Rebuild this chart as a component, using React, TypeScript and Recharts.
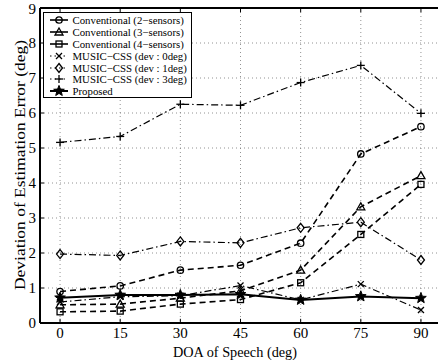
import React from 'react';
import { LineChart, Line, XAxis, YAxis, CartesianGrid, ReferenceLine, Legend } from 'recharts';

const doa = [0, 15, 30, 45, 60, 75, 90];
const conv2 = [0.9, 1.06, 1.51, 1.65, 2.28, 4.83, 5.61];
const conv3 = [0.52, 0.54, 0.71, 0.92, 1.51, 3.32, 4.21];
const conv4 = [0.32, 0.34, 0.54, 0.67, 1.15, 2.53, 3.96];
const music0 = [0.6, 0.75, 0.78, 1.07, 0.66, 1.11, 0.37];
const music1 = [1.97, 1.93, 2.33, 2.29, 2.72, 2.88, 1.8];
const music3 = [5.16, 5.33, 6.25, 6.22, 6.87, 7.36, 5.99];
const proposed = [0.72, 0.8, 0.8, 0.82, 0.66, 0.76, 0.71];

const xTicks = [0, 15, 30, 45, 60, 75, 90];
const yTicks = [0, 1, 2, 3, 4, 5, 6, 7, 8, 9];

const data = doa.map((x, i) => ({
  x,
  conv2: conv2[i],
  conv3: conv3[i],
  conv4: conv4[i],
  music0: music0[i],
  music1: music1[i],
  music3: music3[i],
  proposed: proposed[i],
}));

type MType = 'circle' | 'triangle' | 'square' | 'x' | 'diamond' | 'plus' | 'star';

const series: { key: string; name: string; marker: MType; style: 'dash' | 'dashdot' | 'solid' }[] = [
  { key: 'conv2', name: 'Conventional (2\u2212sensors)', marker: 'circle', style: 'dash' },
  { key: 'conv3', name: 'Conventional (3\u2212sensors)', marker: 'triangle', style: 'dash' },
  { key: 'conv4', name: 'Conventional (4\u2212sensors)', marker: 'square', style: 'dash' },
  { key: 'music0', name: 'MUSIC\u2212CSS (dev : 0deg)', marker: 'x', style: 'dashdot' },
  { key: 'music1', name: 'MUSIC\u2212CSS (dev : 1deg)', marker: 'diamond', style: 'dashdot' },
  { key: 'music3', name: 'MUSIC\u2212CSS (dev : 3deg)', marker: 'plus', style: 'dashdot' },
  { key: 'proposed', name: 'Proposed', marker: 'star', style: 'solid' },
];

const lineProps = (style: string) => {
  if (style === 'dash') return { strokeWidth: 1.6, strokeDasharray: '6 4' };
  if (style === 'dashdot') return { strokeWidth: 1.2, strokeDasharray: '7 3 1.5 3' };
  return { strokeWidth: 2 };
};

const Marker = ({ type, cx, cy }: { type: MType; cx: number; cy: number }) => {
  const s = { stroke: '#000', strokeWidth: 1.3, fill: 'none' } as const;
  switch (type) {
    case 'circle':
      return <circle cx={cx} cy={cy} r={3.2} {...s} />;
    case 'triangle':
      return <polygon points={`${cx},${cy - 4} ${cx - 4},${cy + 3} ${cx + 4},${cy + 3}`} {...s} />;
    case 'square':
      return <rect x={cx - 3} y={cy - 3} width={6} height={6} {...s} />;
    case 'x':
      return (
        <g {...s}>
          <line x1={cx - 3} y1={cy - 3} x2={cx + 3} y2={cy + 3} />
          <line x1={cx - 3} y1={cy + 3} x2={cx + 3} y2={cy - 3} />
        </g>
      );
    case 'diamond':
      return <polygon points={`${cx},${cy - 4.5} ${cx + 3.5},${cy} ${cx},${cy + 4.5} ${cx - 3.5},${cy}`} {...s} />;
    case 'plus':
      return (
        <g {...s}>
          <line x1={cx - 4} y1={cy} x2={cx + 4} y2={cy} />
          <line x1={cx} y1={cy - 4} x2={cx} y2={cy + 4} />
        </g>
      );
    case 'star': {
      const pts: string[] = [];
      for (let i = 0; i < 10; i++) {
        const r = i % 2 === 0 ? 5.6 : 2.4;
        const a = -Math.PI / 2 + (i * Math.PI) / 5;
        pts.push(`${cx + r * Math.cos(a)},${cy + r * Math.sin(a)}`);
      }
      return <polygon points={pts.join(' ')} stroke="#000" strokeWidth={1} fill="#000" strokeLinejoin="miter" />;
    }
  }
  return null;
};

const FONT = '"Liberation Serif", "Times New Roman", serif';

const LegendBox = () => (
  <div
    style={{
      boxSizing: 'border-box',
      width: 149,
      height: 86,
      border: '1.5px solid #000',
      background: '#fff',
      padding: '1px 4px 0 6px',
      fontFamily: FONT,
      fontSize: 10.8,
      color: '#000',
    }}
  >
    {series.map((s) => {
      const lp = lineProps(s.style);
      return (
        <div key={s.key} style={{ display: 'flex', alignItems: 'center', height: 11.9, whiteSpace: 'nowrap' }}>
          <svg width={18} height={12} style={{ flex: 'none', marginRight: 4.5, overflow: 'visible' }}>
            <line x1={0} y1={6} x2={18} y2={6} stroke="#000" strokeWidth={lp.strokeWidth} strokeDasharray={s.style === 'dashdot' ? '1.5 3' : undefined} />
            <Marker type={s.marker} cx={9} cy={6} />
          </svg>
          <span>{s.name}</span>
        </div>
      );
    })}
  </div>
);

export default function App() {
  return (
    <div style={{ position: 'fixed', left: 0, top: 0, width: 438, height: 360, overflow: 'hidden', background: '#fff' }}>
      <LineChart width={445} height={360} data={data} margin={{ top: 8, right: 4, bottom: 7, left: 0 }}>
        <CartesianGrid stroke="#777" strokeDasharray="1 3" strokeWidth={0.8} horizontalValues={yTicks} verticalValues={xTicks} />
        <XAxis
          dataKey="x"
          type="number"
          domain={[-5, 95]}
          ticks={xTicks}
          height={30}
          tickLine={false}
          tickSize={0}
          tickMargin={4}
          axisLine={{ stroke: '#000', strokeWidth: 2 }}
          tick={{ fill: '#000', fontSize: 15, fontFamily: FONT }}
          label={{
            content: () => (
              <text x={235} y={357} textAnchor="middle" fontSize={14.5} fontFamily={FONT} fill="#000" textLength={124} lengthAdjust="spacingAndGlyphs">
                DOA of Speech (deg)
              </text>
            ),
          }}
        />
        <YAxis
          type="number"
          domain={[0, 9]}
          ticks={yTicks}
          width={40}
          tickLine={false}
          tickSize={0}
          tickMargin={4}
          axisLine={{ stroke: '#000', strokeWidth: 2 }}
          tick={{ fill: '#000', fontSize: 15, fontFamily: FONT }}
          label={{
            content: () => (
              <text x={25} y={165} transform="rotate(-90 25 165)" textAnchor="middle" fontSize={14.5} fontFamily={FONT} fill="#000" textLength={250} lengthAdjust="spacingAndGlyphs">
                Deviation of Estimation Error (deg)
              </text>
            ),
          }}
        />
        <ReferenceLine y={9} stroke="#000" strokeWidth={2} />
        <ReferenceLine x={95} stroke="#000" strokeWidth={2} />
        {xTicks.map((t) => (
          <ReferenceLine key={'bt' + t} segment={[{ x: t, y: 0 }, { x: t, y: 0.12 }]} stroke="#000" strokeWidth={1} />
        ))}
        {xTicks.map((t) => (
          <ReferenceLine key={'tt' + t} segment={[{ x: t, y: 9 }, { x: t, y: 8.88 }]} stroke="#000" strokeWidth={1} />
        ))}
        {yTicks.map((t) => (
          <ReferenceLine key={'lt' + t} segment={[{ x: -5, y: t }, { x: -4, y: t }]} stroke="#000" strokeWidth={1} />
        ))}
        {series.map((s) => (
          <Line
            key={s.key}
            dataKey={s.key}
            name={s.name}
            stroke="#000"
            {...lineProps(s.style)}
            isAnimationActive={false}
            dot={(p: any) => <Marker key={s.key + p.index} type={s.marker} cx={p.cx} cy={p.cy} />}
            activeDot={false}
          />
        ))}
        <Legend
          layout="horizontal"
          verticalAlign="middle"
          align="center"
          content={() => <LegendBox />}
          wrapperStyle={{ position: 'absolute', left: 43, top: 12, width: 149, height: 86 }}
        />
      </LineChart>
    </div>
  );
}
